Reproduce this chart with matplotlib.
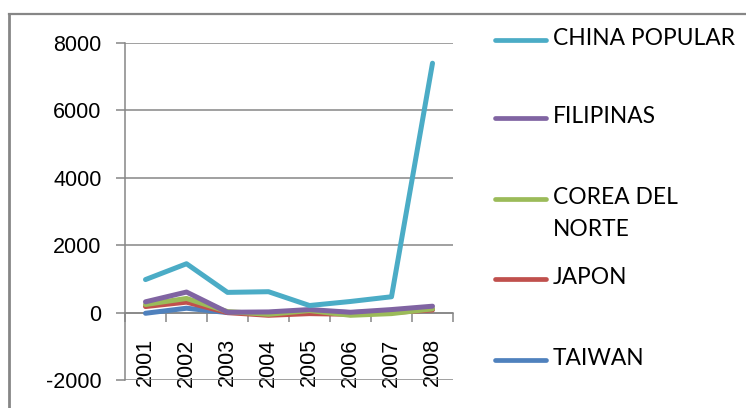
import matplotlib
matplotlib.use("Agg")
import matplotlib.pyplot as plt
from matplotlib.lines import Line2D

plt.rcParams["axes.unicode_minus"] = False

years = ["2001", "2002", "2003", "2004", "2005", "2006", "2007", "2008"]
china = [980, 1450, 600, 620, 210, 330, 470, 7400]
filipinas = [320, 610, 10, 20, 90, 10, 90, 190]
corea = [240, 420, 30, -50, 60, -80, -30, 110]
japon = [180, 310, 0, -80, -30, -50, 0, 80]
taiwan = [-20, 130, 0, 0, 50, 0, 40, 100]

names = ["CHINA POPULAR", "FILIPINAS", "COREA DEL\nNORTE", "JAPON", "TAIWAN"]
series = [china, filipinas, corea, japon, taiwan]
colors = ["#4BACC6", "#8064A2", "#9BBB59", "#C0504D", "#4F81BD"]
zorders = [7, 6, 5, 4, 3]

GRID = "#868686"
W, H = 746, 408

fig = plt.figure(figsize=(W / 100, H / 100), dpi=100)
ax = fig.add_axes([125 / W, 1 - 380 / H, 328 / W, 337 / H])

x = list(range(len(years)))
for vals, c, z in zip(series, colors, zorders):
    ax.plot(x, vals, color=c, lw=3.6, solid_capstyle="round",
            solid_joinstyle="round", zorder=z)

ax.set_xlim(-0.5, len(years) - 0.5)
ax.set_ylim(-2000, 8000)
ax.set_yticks(range(-2000, 8001, 2000))
ax.yaxis.grid(True, color=GRID, lw=1.1)
ax.set_axisbelow(True)

for s in ("top", "right"):
    ax.spines[s].set_visible(False)
ax.spines["bottom"].set_position(("data", 0))
for s in ("left", "bottom"):
    ax.spines[s].set_color(GRID)
    ax.spines[s].set_linewidth(1.1)

ax.set_xticks(x)
ax.set_xticklabels(years, rotation=90, fontsize=15.5, family="Liberation Sans")
ax.set_xticks([i - 0.5 for i in range(len(years) + 1)], minor=True)
ax.tick_params(axis="x", which="major", length=0, pad=18.5)
ax.tick_params(axis="x", which="minor", length=6.5, color=GRID, width=1.1)
ax.tick_params(axis="y", length=6.5, color=GRID, width=1.1, pad=10.5,
               labelsize=15.5)
for lab in ax.get_yticklabels():
    lab.set_family("Liberation Sans")

# legend drawn by hand (Excel-style, handle aligned with first text line)
leg_y = [40, 118, 199, 279, 360]
for name, c, yy in zip(names, colors, leg_y):
    fy = 1 - yy / H
    fig.add_artist(Line2D([495 / W, 546 / W], [fy, fy], color=c, lw=3.4,
                          solid_capstyle="round"))
    fig.text(553 / W, fy + 12 / H, name, fontsize=16.4, family="Lato",
             va="top", ha="left", linespacing=1.62)

# chart border (cropped on right and bottom)
fig.add_artist(Line2D([9 / W, 1], [1 - 14 / H, 1 - 14 / H], color=GRID, lw=1.6))
fig.add_artist(Line2D([9 / W, 9 / W], [0, 1 - 14 / H], color=GRID, lw=2.0))

fig.savefig("out.png", dpi=100)
